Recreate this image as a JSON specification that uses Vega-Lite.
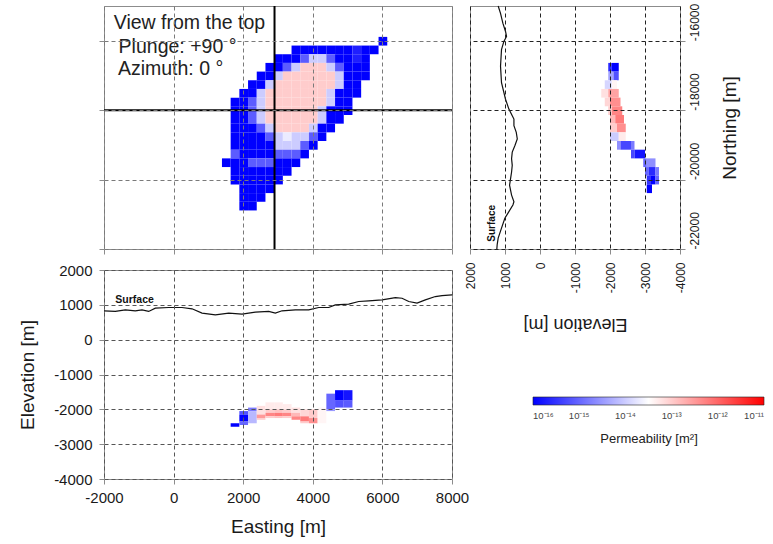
{
  "$schema": "https://vega.github.io/schema/vega-lite/v6.json",
  "background": "white",
  "padding": {"left": 18, "top": 2, "right": 5, "bottom": 5},
  "config": {
    "font": "Liberation Sans",
    "view": {"stroke": "#8c8c8c", "strokeWidth": 1},
    "axis": {
      "domain": false,
      "tickColor": "#8c8c8c",
      "tickSize": 5,
      "tickCount": 12,
      "gridColor": "#555555",
      "gridDash": [4, 3],
      "gridWidth": 1,
      "labelColor": "#1a1a1a",
      "titleColor": "#1a1a1a",
      "titleFontWeight": "normal",
      "labelFlush": false,
      "labelOverlap": false
    }
  },
  "datasets": {
    "plan": [
      {"e": 5875, "n": -16125, "k": -16},
      {"e": 3375, "n": -16375, "k": -16}, {"e": 3625, "n": -16375, "k": -16}, {"e": 3875, "n": -16375, "k": -16}, {"e": 4125, "n": -16375, "k": -16}, {"e": 4375, "n": -16375, "k": -16}, {"e": 4625, "n": -16375, "k": -16}, {"e": 4875, "n": -16375, "k": -16}, {"e": 5125, "n": -16375, "k": -15.7}, {"e": 5375, "n": -16375, "k": -16}, {"e": 5625, "n": -16375, "k": -16},
      {"e": 2875, "n": -16625, "k": -16}, {"e": 3125, "n": -16625, "k": -16}, {"e": 3375, "n": -16625, "k": -16}, {"e": 3625, "n": -16625, "k": -15.1}, {"e": 3875, "n": -16625, "k": -14}, {"e": 4125, "n": -16625, "k": -14}, {"e": 4375, "n": -16625, "k": -15.1}, {"e": 4625, "n": -16625, "k": -16}, {"e": 4875, "n": -16625, "k": -16}, {"e": 5125, "n": -16625, "k": -15.7}, {"e": 5375, "n": -16625, "k": -16},
      {"e": 2625, "n": -16875, "k": -16}, {"e": 2875, "n": -16875, "k": -16}, {"e": 3125, "n": -16875, "k": -15.1}, {"e": 3375, "n": -16875, "k": -14}, {"e": 3625, "n": -16875, "k": -13}, {"e": 3875, "n": -16875, "k": -13}, {"e": 4125, "n": -16875, "k": -13}, {"e": 4375, "n": -16875, "k": -14}, {"e": 4625, "n": -16875, "k": -15.1}, {"e": 4875, "n": -16875, "k": -16}, {"e": 5125, "n": -16875, "k": -16}, {"e": 5375, "n": -16875, "k": -16},
      {"e": 2375, "n": -17125, "k": -16}, {"e": 2625, "n": -17125, "k": -16}, {"e": 2875, "n": -17125, "k": -14}, {"e": 3125, "n": -17125, "k": -13}, {"e": 3375, "n": -17125, "k": -13}, {"e": 3625, "n": -17125, "k": -13}, {"e": 3875, "n": -17125, "k": -13}, {"e": 4125, "n": -17125, "k": -13}, {"e": 4375, "n": -17125, "k": -13}, {"e": 4625, "n": -17125, "k": -14}, {"e": 4875, "n": -17125, "k": -16}, {"e": 5125, "n": -17125, "k": -16}, {"e": 5375, "n": -17125, "k": -16},
      {"e": 2125, "n": -17375, "k": -16}, {"e": 2375, "n": -17375, "k": -16}, {"e": 2625, "n": -17375, "k": -14}, {"e": 2875, "n": -17375, "k": -13}, {"e": 3125, "n": -17375, "k": -13}, {"e": 3375, "n": -17375, "k": -13}, {"e": 3625, "n": -17375, "k": -13}, {"e": 3875, "n": -17375, "k": -13}, {"e": 4125, "n": -17375, "k": -13}, {"e": 4375, "n": -17375, "k": -13}, {"e": 4625, "n": -17375, "k": -14}, {"e": 4875, "n": -17375, "k": -16}, {"e": 5125, "n": -17375, "k": -16},
      {"e": 1875, "n": -17625, "k": -16}, {"e": 2125, "n": -17625, "k": -16}, {"e": 2375, "n": -17625, "k": -14}, {"e": 2625, "n": -17625, "k": -13}, {"e": 2875, "n": -17625, "k": -13}, {"e": 3125, "n": -17625, "k": -13}, {"e": 3375, "n": -17625, "k": -13}, {"e": 3625, "n": -17625, "k": -13}, {"e": 3875, "n": -17625, "k": -13}, {"e": 4125, "n": -17625, "k": -13}, {"e": 4375, "n": -17625, "k": -14}, {"e": 4625, "n": -17625, "k": -16}, {"e": 4875, "n": -17625, "k": -16}, {"e": 5125, "n": -17625, "k": -16},
      {"e": 1625, "n": -17875, "k": -16}, {"e": 1875, "n": -17875, "k": -16}, {"e": 2125, "n": -17875, "k": -15.1}, {"e": 2375, "n": -17875, "k": -14}, {"e": 2625, "n": -17875, "k": -13}, {"e": 2875, "n": -17875, "k": -13}, {"e": 3125, "n": -17875, "k": -13}, {"e": 3375, "n": -17875, "k": -13}, {"e": 3625, "n": -17875, "k": -13}, {"e": 3875, "n": -17875, "k": -13}, {"e": 4125, "n": -17875, "k": -13}, {"e": 4375, "n": -17875, "k": -14}, {"e": 4625, "n": -17875, "k": -16}, {"e": 4875, "n": -17875, "k": -16},
      {"e": 1625, "n": -18125, "k": -16}, {"e": 1875, "n": -18125, "k": -16}, {"e": 2125, "n": -18125, "k": -15.1}, {"e": 2375, "n": -18125, "k": -14}, {"e": 2625, "n": -18125, "k": -13}, {"e": 2875, "n": -18125, "k": -13}, {"e": 3125, "n": -18125, "k": -13}, {"e": 3375, "n": -18125, "k": -13}, {"e": 3625, "n": -18125, "k": -13}, {"e": 3875, "n": -18125, "k": -13}, {"e": 4125, "n": -18125, "k": -14}, {"e": 4375, "n": -18125, "k": -16}, {"e": 4625, "n": -18125, "k": -16}, {"e": 4875, "n": -18125, "k": -16},
      {"e": 1625, "n": -18375, "k": -16}, {"e": 1875, "n": -18375, "k": -16}, {"e": 2125, "n": -18375, "k": -15.1}, {"e": 2375, "n": -18375, "k": -14}, {"e": 2625, "n": -18375, "k": -13}, {"e": 2875, "n": -18375, "k": -13}, {"e": 3125, "n": -18375, "k": -13}, {"e": 3375, "n": -18375, "k": -13}, {"e": 3625, "n": -18375, "k": -13}, {"e": 3875, "n": -18375, "k": -13}, {"e": 4125, "n": -18375, "k": -14}, {"e": 4375, "n": -18375, "k": -16}, {"e": 4625, "n": -18375, "k": -16},
      {"e": 1625, "n": -18625, "k": -16}, {"e": 1875, "n": -18625, "k": -16}, {"e": 2125, "n": -18625, "k": -16}, {"e": 2375, "n": -18625, "k": -15.1}, {"e": 2625, "n": -18625, "k": -14}, {"e": 2875, "n": -18625, "k": -13}, {"e": 3125, "n": -18625, "k": -13}, {"e": 3375, "n": -18625, "k": -13}, {"e": 3625, "n": -18625, "k": -13}, {"e": 3875, "n": -18625, "k": -14}, {"e": 4125, "n": -18625, "k": -16}, {"e": 4375, "n": -18625, "k": -16},
      {"e": 1625, "n": -18875, "k": -16}, {"e": 1875, "n": -18875, "k": -16}, {"e": 2125, "n": -18875, "k": -16}, {"e": 2375, "n": -18875, "k": -16}, {"e": 2625, "n": -18875, "k": -15.1}, {"e": 2875, "n": -18875, "k": -14}, {"e": 3125, "n": -18875, "k": -13.7}, {"e": 3375, "n": -18875, "k": -14}, {"e": 3625, "n": -18875, "k": -14}, {"e": 3875, "n": -18875, "k": -15.1}, {"e": 4125, "n": -18875, "k": -16},
      {"e": 1625, "n": -19125, "k": -16}, {"e": 1875, "n": -19125, "k": -16}, {"e": 2125, "n": -19125, "k": -16}, {"e": 2375, "n": -19125, "k": -16}, {"e": 2625, "n": -19125, "k": -16}, {"e": 2875, "n": -19125, "k": -14}, {"e": 3125, "n": -19125, "k": -14}, {"e": 3375, "n": -19125, "k": -14}, {"e": 3625, "n": -19125, "k": -15.1}, {"e": 3875, "n": -19125, "k": -16},
      {"e": 1625, "n": -19375, "k": -15.1}, {"e": 1875, "n": -19375, "k": -16}, {"e": 2125, "n": -19375, "k": -16}, {"e": 2375, "n": -19375, "k": -16}, {"e": 2625, "n": -19375, "k": -16}, {"e": 2875, "n": -19375, "k": -15.1}, {"e": 3125, "n": -19375, "k": -15.1}, {"e": 3375, "n": -19375, "k": -15.1}, {"e": 3625, "n": -19375, "k": -16},
      {"e": 1375, "n": -19625, "k": -16}, {"e": 1625, "n": -19625, "k": -16}, {"e": 1875, "n": -19625, "k": -16}, {"e": 2125, "n": -19625, "k": -15.1}, {"e": 2375, "n": -19625, "k": -15.1}, {"e": 2625, "n": -19625, "k": -15.1}, {"e": 2875, "n": -19625, "k": -16}, {"e": 3125, "n": -19625, "k": -16}, {"e": 3375, "n": -19625, "k": -16},
      {"e": 1625, "n": -19875, "k": -16}, {"e": 1875, "n": -19875, "k": -16}, {"e": 2125, "n": -19875, "k": -16}, {"e": 2375, "n": -19875, "k": -16}, {"e": 2625, "n": -19875, "k": -16}, {"e": 2875, "n": -19875, "k": -16}, {"e": 3125, "n": -19875, "k": -16},
      {"e": 1625, "n": -20125, "k": -16}, {"e": 1875, "n": -20125, "k": -16}, {"e": 2125, "n": -20125, "k": -16}, {"e": 2375, "n": -20125, "k": -16}, {"e": 2625, "n": -20125, "k": -16}, {"e": 2875, "n": -20125, "k": -16},
      {"e": 1875, "n": -20375, "k": -16}, {"e": 2125, "n": -20375, "k": -16}, {"e": 2375, "n": -20375, "k": -16}, {"e": 2625, "n": -20375, "k": -16},
      {"e": 1875, "n": -20625, "k": -16}, {"e": 2125, "n": -20625, "k": -16}, {"e": 2375, "n": -20625, "k": -16},
      {"e": 1875, "n": -20875, "k": -16}, {"e": 2125, "n": -20875, "k": -16}
    ],
    "ns": [
      {"n": -16875, "z0": -1950, "z1": -2050, "k": -15.6}, {"n": -16875, "z0": -2050, "z1": -2250, "k": -16},
      {"n": -17125, "z0": -1950, "z1": -2100, "k": -14.4}, {"n": -17125, "z0": -2100, "z1": -2250, "k": -15.2},
      {"n": -17375, "z0": -1850, "z1": -2050, "k": -13.9}, {"n": -17375, "z0": -2050, "z1": -2200, "k": -13.4},
      {"n": -17625, "z0": -1750, "z1": -1950, "k": -13.2}, {"n": -17625, "z0": -1950, "z1": -2250, "k": -12.6},
      {"n": -17875, "z0": -1850, "z1": -2000, "k": -13.1}, {"n": -17875, "z0": -2000, "z1": -2300, "k": -12.4},
      {"n": -18125, "z0": -1950, "z1": -2050, "k": -13.0}, {"n": -18125, "z0": -2050, "z1": -2350, "k": -12.3},
      {"n": -18375, "z0": -2000, "z1": -2150, "k": -12.8}, {"n": -18375, "z0": -2150, "z1": -2400, "k": -12.2},
      {"n": -18625, "z0": -2000, "z1": -2200, "k": -13.0}, {"n": -18625, "z0": -2200, "z1": -2450, "k": -12.4},
      {"n": -18875, "z0": -2000, "z1": -2250, "k": -14.0}, {"n": -18875, "z0": -2250, "z1": -2450, "k": -13.3},
      {"n": -19125, "z0": -2200, "z1": -2300, "k": -14.6}, {"n": -19125, "z0": -2300, "z1": -2600, "k": -15.3}, {"n": -19125, "z0": -2600, "z1": -2700, "k": -14.8},
      {"n": -19375, "z0": -2600, "z1": -2700, "k": -15.3}, {"n": -19375, "z0": -2700, "z1": -3000, "k": -15.8},
      {"n": -19625, "z0": -2950, "z1": -3050, "k": -15.0}, {"n": -19625, "z0": -3050, "z1": -3300, "k": -14.6},
      {"n": -19875, "z0": -3000, "z1": -3100, "k": -15.0}, {"n": -19875, "z0": -3100, "z1": -3300, "k": -15.6}, {"n": -19875, "z0": -3300, "z1": -3400, "k": -14.8},
      {"n": -20125, "z0": -3050, "z1": -3150, "k": -15.5}, {"n": -20125, "z0": -3150, "z1": -3300, "k": -16}, {"n": -20125, "z0": -3300, "z1": -3400, "k": -15.0},
      {"n": -20375, "z0": -3050, "z1": -3200, "k": -16}
    ],
    "ew": [
      {"e": 1625, "z0": -2400, "z1": -2500, "k": -16},
      {"e": 1875, "z0": -2050, "z1": -2150, "k": -15.2}, {"e": 1875, "z0": -2150, "z1": -2350, "k": -16}, {"e": 1875, "z0": -2350, "z1": -2450, "k": -15.0},
      {"e": 2125, "z0": -1950, "z1": -2050, "k": -14.8}, {"e": 2125, "z0": -2050, "z1": -2400, "k": -14.2},
      {"e": 2375, "z0": -1900, "z1": -2150, "k": -13.2}, {"e": 2375, "z0": -2150, "z1": -2250, "k": -12.5}, {"e": 2375, "z0": -2250, "z1": -2300, "k": -13.0},
      {"e": 2625, "z0": -1800, "z1": -2000, "k": -13.3}, {"e": 2625, "z0": -2000, "z1": -2100, "k": -13.0}, {"e": 2625, "z0": -2100, "z1": -2200, "k": -12.3}, {"e": 2625, "z0": -2200, "z1": -2250, "k": -13.0},
      {"e": 2875, "z0": -1800, "z1": -2000, "k": -13.3}, {"e": 2875, "z0": -2000, "z1": -2100, "k": -12.9}, {"e": 2875, "z0": -2100, "z1": -2200, "k": -12.2}, {"e": 2875, "z0": -2200, "z1": -2250, "k": -12.9},
      {"e": 3125, "z0": -1850, "z1": -2000, "k": -13.3}, {"e": 3125, "z0": -2000, "z1": -2100, "k": -13.0}, {"e": 3125, "z0": -2100, "z1": -2200, "k": -12.3}, {"e": 3125, "z0": -2200, "z1": -2250, "k": -13.0},
      {"e": 3375, "z0": -1950, "z1": -2100, "k": -13.2}, {"e": 3375, "z0": -2100, "z1": -2200, "k": -12.8}, {"e": 3375, "z0": -2200, "z1": -2300, "k": -12.3},
      {"e": 3625, "z0": -2000, "z1": -2200, "k": -13.1}, {"e": 3625, "z0": -2200, "z1": -2350, "k": -12.2}, {"e": 3625, "z0": -2350, "z1": -2400, "k": -13.0},
      {"e": 3875, "z0": -2000, "z1": -2250, "k": -13.0}, {"e": 3875, "z0": -2250, "z1": -2400, "k": -12.4},
      {"e": 4125, "z0": -1950, "z1": -2400, "k": -13.4},
      {"e": 4375, "z0": -1550, "z1": -2000, "k": -15.0}, {"e": 4375, "z0": -2000, "z1": -2050, "k": -14.5},
      {"e": 4625, "z0": -1450, "z1": -1750, "k": -16}, {"e": 4625, "z0": -1750, "z1": -1950, "k": -15.2},
      {"e": 4875, "z0": -1450, "z1": -1750, "k": -15.8}, {"e": 4875, "z0": -1750, "z1": -1950, "k": -15.1}
    ],
    "nsSurface": [
      {"n": -15000, "z": 1195}, {"n": -15210, "z": 1128}, {"n": -15495, "z": 1061}, {"n": -15733, "z": 985}, {"n": -15876, "z": 956}, {"n": -16019, "z": 1032}, {"n": -16257, "z": 1100}, {"n": -16733, "z": 1128}, {"n": -17210, "z": 1100}, {"n": -17686, "z": 985}, {"n": -17971, "z": 889}, {"n": -18162, "z": 793}, {"n": -18257, "z": 745}, {"n": -18448, "z": 745}, {"n": -18638, "z": 678}, {"n": -18829, "z": 649}, {"n": -19019, "z": 716}, {"n": -19210, "z": 793}, {"n": -19400, "z": 812}, {"n": -19590, "z": 793}, {"n": -19781, "z": 812}, {"n": -19971, "z": 841}, {"n": -20162, "z": 870}, {"n": -20448, "z": 812}, {"n": -20638, "z": 745}, {"n": -20733, "z": 774}, {"n": -20924, "z": 889}, {"n": -21114, "z": 1004}, {"n": -21400, "z": 1100}, {"n": -21686, "z": 1195}, {"n": -21876, "z": 1224}, {"n": -22000, "z": 1233}
    ],
    "ewSurface": [
      {"e": -2000, "z": 829}, {"e": -1674, "z": 810}, {"e": -1387, "z": 857}, {"e": -1100, "z": 829}, {"e": -908, "z": 857}, {"e": -716, "z": 810}, {"e": -525, "z": 905}, {"e": -141, "z": 924}, {"e": 242, "z": 924}, {"e": 529, "z": 886}, {"e": 817, "z": 762}, {"e": 1200, "z": 714}, {"e": 1584, "z": 762}, {"e": 1966, "z": 733}, {"e": 2349, "z": 790}, {"e": 2733, "z": 810}, {"e": 2924, "z": 762}, {"e": 3116, "z": 829}, {"e": 3499, "z": 857}, {"e": 3883, "z": 857}, {"e": 4170, "z": 924}, {"e": 4457, "z": 924}, {"e": 4648, "z": 1000}, {"e": 5032, "z": 1019}, {"e": 5320, "z": 1095}, {"e": 5607, "z": 1114}, {"e": 5990, "z": 1143}, {"e": 6373, "z": 1209}, {"e": 6565, "z": 1190}, {"e": 6757, "z": 1095}, {"e": 6996, "z": 1048}, {"e": 7234, "z": 1143}, {"e": 7521, "z": 1238}, {"e": 7713, "z": 1267}, {"e": 8000, "z": 1286}
    ],
    "planNotes": [
      {"e": -1720, "n": -15666, "label": "View from the top"},
      {"e": -1580, "n": -16351, "label": "Plunge: +90 °"},
      {"e": -1600, "n": -17000, "label": "Azimuth: 0 °"}
    ],
    "planNoteBox": [
      {"e0": -1630, "e1": 1880, "n0": -17090, "n1": -15110}
    ]
  },
  "columns": 2,
  "spacing": {"row": 21, "column": 18},
  "bounds": "flush",
  "resolve": {"scale": {"color": "shared"}, "legend": {"color": "shared"}},
  "concat": [
    {
      "width": 348,
      "height": 243,
      "layer": [
        {
          "data": {"name": "plan"},
          "mark": {"type": "rect", "binSpacing": 0},
          "encoding": {
            "x": {
              "field": "e", "type": "quantitative",
              "bin": {"binned": true, "step": 250},
              "scale": {"domain": [-2000, 8000], "nice": false, "zero": false},
              "axis": {"values": [-2000, 0, 2000, 4000, 6000, 8000], "tickCount": 12, "labels": false, "title": null, "grid": true, "gridColor": "#7a7a7a"}
            },
            "y": {
              "field": "n", "type": "quantitative",
              "bin": {"binned": true, "step": 250},
              "scale": {"domain": [-22000, -15000], "nice": false, "zero": false},
              "axis": {"values": [-22000, -20000, -18000, -16000], "tickCount": 12, "labels": false, "title": null, "grid": true, "gridColor": "#7a7a7a"}
            },
            "color": {
              "field": "k", "type": "quantitative",
              "scale": {"domain": [-16, -13.5, -11], "range": ["#0000ff", "#ffffff", "#ff0000"], "interpolate": "rgb", "clamp": true},
              "legend": {
                "orient": "none", "legendX": 429, "legendY": 391,
                "direction": "horizontal",
                "gradientLength": 231, "gradientThickness": 8,
                "gradientStrokeColor": "#222222", "gradientStrokeWidth": 0.6,
                "values": [-16, -15, -14, -13, -12, -11],
                "labelExpr": "datum.value == -16 ? '10⁻¹⁶' : datum.value == -15 ? '10⁻¹⁵' : datum.value == -14 ? '10⁻¹⁴' : datum.value == -13 ? '10⁻¹³' : datum.value == -12 ? '10⁻¹²' : '10⁻¹¹'",
                "labelFontSize": 9.5, "labelColor": "#444444", "labelFlush": false, "labelOverlap": false, "labelOffset": 6,
                "title": "Permeability [m²]", "titleOrient": "bottom", "titleAnchor": "middle",
                "titleFontSize": 13, "titleFontWeight": "normal", "titleColor": "#222222", "titlePadding": 12
              }
            }
          }
        },
        {
          "data": {"name": "planNoteBox"},
          "mark": {"type": "rect", "color": "white"},
          "encoding": {
            "x": {"field": "e0", "type": "quantitative"},
            "x2": {"field": "e1"},
            "y": {"field": "n0", "type": "quantitative"},
            "y2": {"field": "n1"}
          }
        },
        {
          "data": {"values": [{"e": 2900}]},
          "mark": {"type": "rule", "color": "black", "strokeWidth": 2},
          "encoding": {"x": {"field": "e", "type": "quantitative"}}
        },
        {
          "data": {"values": [{"n": -18000}]},
          "mark": {"type": "rule", "color": "black", "strokeWidth": 2},
          "encoding": {"y": {"field": "n", "type": "quantitative"}}
        },
        {
          "data": {"name": "planNotes"},
          "mark": {"type": "text", "align": "left", "baseline": "alphabetic", "fontSize": 19.5, "color": "#222222"},
          "encoding": {
            "x": {"field": "e", "type": "quantitative"},
            "y": {"field": "n", "type": "quantitative"},
            "text": {"field": "label"}
          }
        }
      ]
    },
    {
      "width": 210,
      "height": 243,
      "layer": [
        {
          "data": {"name": "ns"},
          "mark": {"type": "rect", "binSpacing": 0},
          "encoding": {
            "x": {
              "field": "z0", "type": "quantitative",
              "scale": {"domain": [2000, -4000], "nice": false, "zero": false},
              "axis": {
                "orient": "bottom", "values": [2000, 1000, 0, -1000, -2000, -3000, -4000], "tickCount": 12,
                "labelExpr": "'' + datum.value", "labelAngle": 270, "labelAlign": "right", "labelBaseline": "middle",
                "labelFontSize": 12, "labelPadding": 8, "labelOverlap": false, "labelFlush": false,
                "title": "Elevation [m]", "titleAngle": 180, "titleBaseline": "bottom", "titleFontSize": 18, "titlePadding": 22,
                "grid": true, "gridColor": "#222222", "zindex": 1
              }
            },
            "x2": {"field": "z1"},
            "y": {
              "field": "n", "type": "quantitative",
              "bin": {"binned": true, "step": 250},
              "scale": {"domain": [-22000, -15000], "nice": false, "zero": false},
              "axis": {
                "orient": "right", "values": [-22000, -20000, -18000, -16000], "tickCount": 12,
                "labelExpr": "'' + datum.value", "labelAngle": 270, "labelAlign": "left", "labelBaseline": "top",
                "labelFontSize": 12, "labelPadding": 4, "labelOverlap": false, "labelFlush": false,
                "title": "Northing [m]", "titleAngle": 270, "titleBaseline": "top", "titleFontSize": 19, "titlePadding": 20,
                "grid": true, "gridColor": "#222222", "zindex": 1
              }
            },
            "color": {
              "field": "k", "type": "quantitative",
              "scale": {"domain": [-16, -13.5, -11], "range": ["#0000ff", "#ffffff", "#ff0000"], "interpolate": "rgb", "clamp": true}
            }
          }
        },
        {
          "data": {"name": "nsSurface"},
          "mark": {"type": "line", "color": "#111111", "strokeWidth": 1.2},
          "encoding": {
            "x": {
              "field": "z", "type": "quantitative",
              "axis": {
                "orient": "bottom", "values": [2000, 1000, 0, -1000, -2000, -3000, -4000], "tickCount": 12,
                "labelExpr": "'' + datum.value", "labelAngle": 270, "labelAlign": "right", "labelBaseline": "middle",
                "labelFontSize": 12, "labelPadding": 8, "labelOverlap": false, "labelFlush": false,
                "title": "Elevation [m]", "titleAngle": 180, "titleBaseline": "bottom", "titleFontSize": 18, "titlePadding": 22,
                "grid": true, "gridColor": "#222222", "zindex": 1
              }
            },
            "y": {
              "field": "n", "type": "quantitative",
              "axis": {
                "orient": "right", "values": [-22000, -20000, -18000, -16000], "tickCount": 12,
                "labelExpr": "'' + datum.value", "labelAngle": 270, "labelAlign": "left", "labelBaseline": "top",
                "labelFontSize": 12, "labelPadding": 4, "labelOverlap": false, "labelFlush": false,
                "title": "Northing [m]", "titleAngle": 270, "titleBaseline": "top", "titleFontSize": 19, "titlePadding": 20,
                "grid": true, "gridColor": "#222222", "zindex": 1
              }
            },
            "order": {"field": "n", "type": "quantitative"}
          }
        },
        {
          "data": {"values": [{"z": 1370, "n": -21260, "label": "Surface"}]},
          "mark": {"type": "text", "angle": 270, "align": "center", "baseline": "middle", "fontSize": 10, "fontWeight": "bold", "color": "#111111"},
          "encoding": {
            "x": {"field": "z", "type": "quantitative"},
            "y": {"field": "n", "type": "quantitative"},
            "text": {"field": "label"}
          }
        }
      ]
    },
    {
      "width": 348,
      "height": 209,
      "layer": [
        {
          "data": {"name": "ew"},
          "mark": {"type": "rect", "binSpacing": 0},
          "encoding": {
            "x": {
              "field": "e", "type": "quantitative",
              "bin": {"binned": true, "step": 250},
              "scale": {"domain": [-2000, 8000], "nice": false, "zero": false},
              "axis": {
                "values": [-2000, 0, 2000, 4000, 6000, 8000], "tickCount": 12, "labelExpr": "'' + datum.value",
                "labelFontSize": 15, "labelPadding": 6, "labelOverlap": false, "labelFlush": false,
                "title": "Easting [m]", "titleFontSize": 19, "titlePadding": 12,
                "grid": true, "zindex": 1
              }
            },
            "y": {
              "field": "z0", "type": "quantitative",
              "scale": {"domain": [-4000, 2000], "nice": false, "zero": false},
              "axis": {
                "values": [-4000, -3000, -2000, -1000, 0, 1000, 2000], "tickCount": 12, "labelExpr": "'' + datum.value",
                "labelFontSize": 15, "labelPadding": 7, "labelOverlap": false, "labelFlush": false,
                "title": "Elevation [m]", "titleFontSize": 19, "titlePadding": 16,
                "grid": true, "zindex": 1
              }
            },
            "y2": {"field": "z1"},
            "color": {
              "field": "k", "type": "quantitative",
              "scale": {"domain": [-16, -13.5, -11], "range": ["#0000ff", "#ffffff", "#ff0000"], "interpolate": "rgb", "clamp": true}
            }
          }
        },
        {
          "data": {"name": "ewSurface"},
          "mark": {"type": "line", "color": "#111111", "strokeWidth": 1.2},
          "encoding": {
            "x": {
              "field": "e", "type": "quantitative",
              "axis": {
                "values": [-2000, 0, 2000, 4000, 6000, 8000], "tickCount": 12, "labelExpr": "'' + datum.value",
                "labelFontSize": 15, "labelPadding": 6, "labelOverlap": false, "labelFlush": false,
                "title": "Easting [m]", "titleFontSize": 19, "titlePadding": 12,
                "grid": true, "zindex": 1
              }
            },
            "y": {
              "field": "z", "type": "quantitative",
              "axis": {
                "values": [-4000, -3000, -2000, -1000, 0, 1000, 2000], "tickCount": 12, "labelExpr": "'' + datum.value",
                "labelFontSize": 15, "labelPadding": 7, "labelOverlap": false, "labelFlush": false,
                "title": "Elevation [m]", "titleFontSize": 19, "titlePadding": 16,
                "grid": true, "zindex": 1
              }
            }
          }
        },
        {
          "data": {"values": [{"e": -1120, "z": 1143, "label": "Surface"}]},
          "mark": {"type": "text", "align": "center", "baseline": "middle", "fontSize": 10.5, "fontWeight": "bold", "color": "#111111"},
          "encoding": {
            "x": {"field": "e", "type": "quantitative"},
            "y": {"field": "z", "type": "quantitative"},
            "text": {"field": "label"}
          }
        }
      ]
    }
  ]
}
